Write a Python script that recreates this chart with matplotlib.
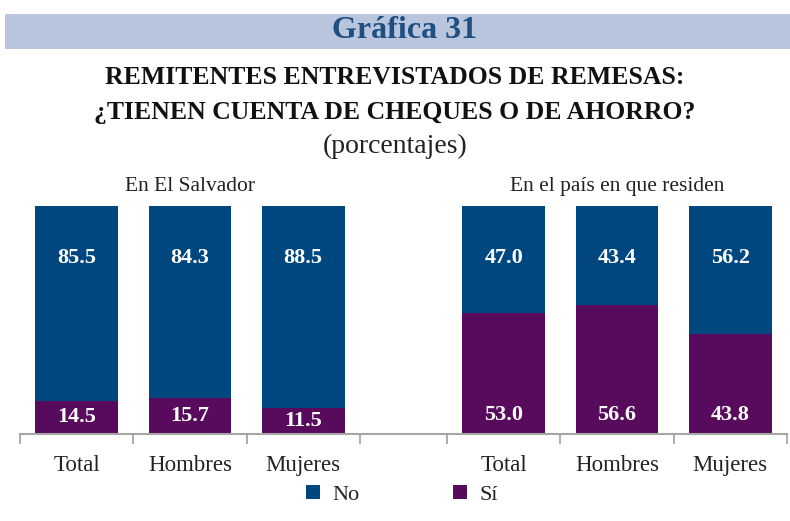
import matplotlib
matplotlib.use("Agg")
import matplotlib.pyplot as plt
from matplotlib.patches import Patch, Rectangle

plt.rcParams['font.family'] = ['Liberation Serif', 'DejaVu Serif']

# Data
categories = ["Total", "Hombres", "Mujeres", "Total", "Hombres", "Mujeres"]
groups = ["En El Salvador", "En el país en que residen"]
si_values = [14.5, 15.7, 11.5, 53.0, 56.6, 43.8]
no_values = [85.5, 84.3, 88.5, 47.0, 43.4, 56.2]

BLUE = '#00467f'
PURPLE = '#580a5c'
GAP = 0.77  # extra space between the two groups

xpos = [i if i < 3 else i + GAP for i in range(len(categories))]

fig = plt.figure(figsize=(7.9, 5.21), dpi=100)

# Banner
fig.patches.append(Rectangle((5 / 790, 1 - 49 / 521), 785 / 790, 35 / 521,
                             transform=fig.transFigure, facecolor='#b8c5dc',
                             edgecolor='none', zorder=0))
fig.text(405 / 790, 1 - 31 / 521, "Gráfica 31", ha='center', va='center',
         fontsize=23, fontweight='bold', color='#1f4e80')

fig.text(0.5, 1 - 78 / 521, "REMITENTES ENTREVISTADOS DE REMESAS:",
         ha='center', va='center', fontsize=18.5, fontweight='bold', color='#111111')
fig.text(0.5, 1 - 113 / 521, "¿TIENEN CUENTA DE CHEQUES O DE AHORRO?",
         ha='center', va='center', fontsize=18.5, fontweight='bold', color='#111111')
fig.text(0.5, 1 - 146 / 521, "(porcentajes)", ha='center', va='center',
         fontsize=20, color='#222222')

ax = fig.add_axes([20 / 790, 87 / 521, 767 / 790, 228 / 521])

ax.bar(xpos, si_values, width=0.73, color=PURPLE, zorder=2)
ax.bar(xpos, no_values, bottom=si_values, width=0.73, color=BLUE, zorder=2)

for x, s, n in zip(xpos, si_values, no_values):
    ax.text(x, min(s / 2, 8.5), f"{s:.1f}", ha='center', va='center',
            color='white', fontsize=16, fontweight='bold')
    ax.text(x, 77.2, f"{n:.1f}", ha='center', va='center',
            color='white', fontsize=16, fontweight='bold')

# group headers
ax.text(xpos[1], 108.5, groups[0], ha='center', va='center', fontsize=15.5, color='#222222')
ax.text(xpos[4], 108.5, groups[1], ha='center', va='center', fontsize=15.5, color='#222222')

bounds = [-0.5, 0.5, 1.5, 2.5, 3 + GAP - 0.5, 4 + GAP - 0.5, 5 + GAP - 0.5, 6 + GAP - 0.5]
ax.set_xlim(bounds[0], bounds[-1])
ax.set_ylim(0, 100)

ax.set_xticks(bounds)
ax.set_xticklabels([])
ax.set_xticks(xpos, minor=True)
ax.set_xticklabels(categories, minor=True, fontsize=16.5, color='#222222')
ax.tick_params(axis='x', which='major', length=7, width=1.3, color='#a6a6a6', direction='out')
ax.tick_params(axis='x', which='minor', length=0, pad=15)
ax.set_yticks([])

for side in ['top', 'right', 'left']:
    ax.spines[side].set_visible(False)
ax.spines['bottom'].set_color('#a6a6a6')
ax.spines['bottom'].set_linewidth(1.5)

handles = [Patch(facecolor=BLUE, label='No'), Patch(facecolor=PURPLE, label='Sí')]
fig.legend(handles=handles, loc='center', bbox_to_anchor=(402 / 790, 1 - 495 / 521),
           ncol=2, frameon=False, fontsize=16, handlelength=0.63, handleheight=0.63,
           handletextpad=0.55, columnspacing=4.2, labelcolor='#222222')

fig.savefig("out.png", dpi=100)
